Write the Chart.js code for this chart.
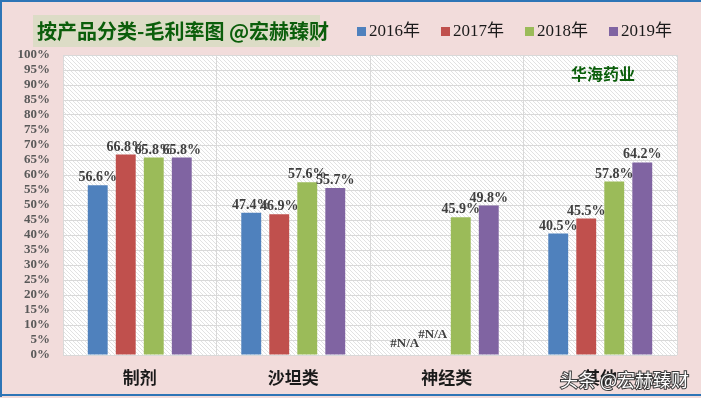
<!DOCTYPE html>
<html>
<head>
<meta charset="utf-8">
<script src="https://cdn.jsdelivr.net/npm/chart.js@4.4.0/dist/chart.umd.min.js"></script>
<style>
  html, body { margin: 0; padding: 0; background: #f2dcdb; }
  #wrap { width: 701px; height: 398px; position: relative; }
</style>
</head>
<body>
<div id="wrap"><canvas id="chart" width="701" height="398"></canvas></div>
<script>
const categories = ['制剂', '沙坦类', '神经类', '其他'];
const years = ['2016年', '2017年', '2018年', '2019年'];
const margin2016 = [56.6, 47.4, null, 40.5];
const margin2017 = [66.8, 46.9, null, 45.5];
const margin2018 = [65.8, 57.6, 45.9, 57.8];
const margin2019 = [65.8, 55.7, 49.8, 64.2];
const colors = ['#4f81bd', '#c0504d', '#9bbb59', '#8064a2'];

const serif = '"Liberation Serif", "Noto Sans CJK SC", serif';
const cjk = '"Noto Sans CJK SC", sans-serif';

// diagonal hatch for the plot area
function makeHatch() {
    const c = document.createElement('canvas');
    c.width = 4; c.height = 4;
    const g = c.getContext('2d');
    g.fillStyle = '#ffffff';
    g.fillRect(0, 0, 4, 4);
    g.strokeStyle = '#e2e2e2';
    g.lineWidth = 1;
    g.beginPath();
    g.moveTo(-1, -1); g.lineTo(5, 5);
    g.moveTo(-1, 3); g.lineTo(1, 5);
    g.moveTo(3, -1); g.lineTo(5, 1);
    g.stroke();
    return g.createPattern(c, 'repeat');
}

const decor = {
    id: 'decor',
    beforeDraw(chart) {
        const ctx = chart.ctx, a = chart.chartArea;
        ctx.save();
        ctx.fillStyle = '#f2dcdb';
        ctx.fillRect(0, 0, chart.width, chart.height);
        ctx.fillStyle = makeHatch();
        ctx.fillRect(a.left, a.top, a.right - a.left, a.bottom - a.top);
        ctx.restore();
    },
    afterDatasetsDraw(chart) {
        const ctx = chart.ctx;
        const y = chart.scales.y;
        ctx.save();
        ctx.textAlign = 'center';
        ctx.textBaseline = 'alphabetic';
        chart.data.datasets.forEach((ds, i) => {
            const meta = chart.getDatasetMeta(i);
            meta.data.forEach((bar, j) => {
                const v = ds.data[j];
                ctx.fillStyle = '#404040';
                if (v === null) {
                    ctx.font = 'bold 13px ' + serif;
                    const off = i === 0 ? 8 : 17;
                    ctx.fillText('#N/A', bar.x, y.getPixelForValue(0) - off);
                } else {
                    ctx.font = 'bold 14px ' + serif;
                    ctx.fillText(v.toFixed(1) + '%', bar.x, bar.y - 4);
                }
            });
        });
        ctx.restore();
    },
    afterDraw(chart) {
        const ctx = chart.ctx;
        ctx.save();
        // title box
        ctx.fillStyle = '#dcdcc6';
        ctx.fillRect(33, 15, 287, 32);
        ctx.fillStyle = '#0b5e0b';
        ctx.font = 'bold 20px ' + cjk;
        ctx.textBaseline = 'middle';
        ctx.textAlign = 'left';
        ctx.fillText('按产品分类-毛利率图 @宏赫臻财', 37, 31);
        // legend
        years.forEach((t, i) => {
            const x = 357 + i * 84;
            ctx.fillStyle = colors[i];
            ctx.fillRect(x, 27, 9, 9);
            ctx.fillStyle = '#1a1a1a';
            ctx.font = '17px ' + serif;
            ctx.fillText(t, x + 12, 32);
        });
        // annotation
        ctx.fillStyle = '#0b5e0b';
        ctx.font = 'bold 16px ' + cjk;
        ctx.textAlign = 'center';
        ctx.fillText('华海药业', 603, 74);
        // watermark
        ctx.font = '18px ' + cjk;
        ctx.textAlign = 'left';
        ctx.lineWidth = 2;
        ctx.strokeStyle = '#3a3a3a';
        ctx.strokeText('头条 @宏赫臻财', 560, 380);
        ctx.fillStyle = '#ffffff';
        ctx.fillText('头条 @宏赫臻财', 560, 380);
        // frame
        ctx.strokeStyle = '#2e75b6';
        ctx.lineWidth = 2;
        ctx.beginPath();
        ctx.moveTo(1, 397); ctx.lineTo(1, 1); ctx.lineTo(701, 1);
        ctx.moveTo(0, 395); ctx.lineTo(701, 395);
        ctx.stroke();
        ctx.restore();
    }
};

const datasets = [margin2016, margin2017, margin2018, margin2019].map((d, i) => ({
    label: years[i],
    data: d,
    backgroundColor: colors[i],
    categoryPercentage: 0.73,
    barPercentage: 0.71
}));

new Chart(document.getElementById('chart').getContext('2d'), {
    type: 'bar',
    data: { labels: categories, datasets: datasets },
    plugins: [decor],
    options: {
        responsive: false,
        animation: false,
        layout: { padding: { top: 55, right: 24, left: 0, bottom: 0 } },
        plugins: { legend: { display: false }, tooltip: { enabled: false } },
        scales: {
            x: {
                grid: { color: '#d9d9d9', offset: true, drawTicks: false },
                border: { display: false },
                ticks: { color: '#1a1a1a', font: { family: cjk, size: 17, weight: 'bold' }, padding: 12 },
                afterFit(s) { s.height = 43; }
            },
            y: {
                min: 0,
                max: 100,
                grid: { color: '#d9d9d9', drawTicks: false },
                border: { display: false },
                ticks: {
                    stepSize: 5,
                    autoSkip: false,
                    color: '#595959',
                    padding: 13,
                    font: { family: serif, size: 13, weight: 'bold' },
                    callback: v => v + '%'
                },
                afterFit(s) { s.width = 63; }
            }
        }
    }
});
</script>
</body>
</html>
